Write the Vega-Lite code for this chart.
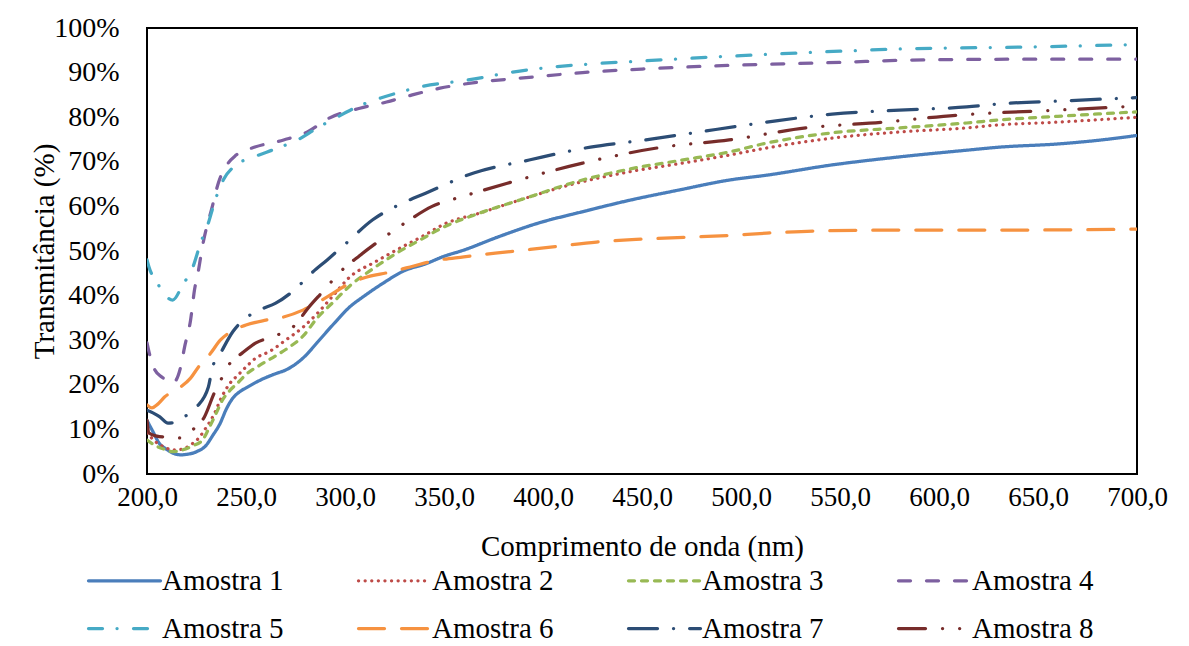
{
  "$schema": "https://vega.github.io/schema/vega-lite/v6.json",
  "width": 990,
  "height": 446,
  "autosize": {"type": "none"},
  "padding": {"left": 147, "top": 28, "right": 52, "bottom": 172},
  "background": "#ffffff",
  "config": {
    "view": {"stroke": "#000000", "strokeWidth": 2},
    "font": "Liberation Serif",
    "axis": {"labelFont": "Liberation Serif", "titleFont": "Liberation Serif", "labelColor": "#000", "titleColor": "#000", "titleFontWeight": "normal", "grid": false, "ticks": false, "domain": false}
  },
  "datasets": {
    "spec": [
      {"s":"Amostra 1","x":200,"y":12},{"s":"Amostra 1","x":203,"y":9.5},{"s":"Amostra 1","x":206,"y":7},{"s":"Amostra 1","x":210,"y":5.5},{"s":"Amostra 1","x":213,"y":4.7},{"s":"Amostra 1","x":217,"y":4.3},{"s":"Amostra 1","x":220,"y":4.4},{"s":"Amostra 1","x":225,"y":5},{"s":"Amostra 1","x":230,"y":6.5},{"s":"Amostra 1","x":233,"y":8.5},{"s":"Amostra 1","x":237,"y":11.4},{"s":"Amostra 1","x":240,"y":14.5},{"s":"Amostra 1","x":243,"y":16.8},{"s":"Amostra 1","x":247,"y":18.5},{"s":"Amostra 1","x":250,"y":19.3},{"s":"Amostra 1","x":257,"y":21},{"s":"Amostra 1","x":265,"y":22.5},{"s":"Amostra 1","x":270,"y":23.3},{"s":"Amostra 1","x":280,"y":26.5},{"s":"Amostra 1","x":286,"y":29.5},{"s":"Amostra 1","x":295,"y":34},{"s":"Amostra 1","x":302,"y":37.3},{"s":"Amostra 1","x":310,"y":40},{"s":"Amostra 1","x":320,"y":43},{"s":"Amostra 1","x":330,"y":45.6},{"s":"Amostra 1","x":340,"y":47},{"s":"Amostra 1","x":350,"y":48.8},{"s":"Amostra 1","x":360,"y":50.2},{"s":"Amostra 1","x":377,"y":53.1},{"s":"Amostra 1","x":398,"y":56.3},{"s":"Amostra 1","x":419,"y":58.7},{"s":"Amostra 1","x":444,"y":61.4},{"s":"Amostra 1","x":469,"y":63.7},{"s":"Amostra 1","x":494,"y":65.9},{"s":"Amostra 1","x":513,"y":67},{"s":"Amostra 1","x":546,"y":69.3},{"s":"Amostra 1","x":580,"y":71.1},{"s":"Amostra 1","x":614,"y":72.6},{"s":"Amostra 1","x":631,"y":73.3},{"s":"Amostra 1","x":660,"y":74},{"s":"Amostra 1","x":680,"y":74.8},{"s":"Amostra 1","x":700,"y":75.9},

      {"s":"Amostra 2","x":200,"y":9.2},{"s":"Amostra 2","x":205,"y":7},{"s":"Amostra 2","x":209,"y":6},{"s":"Amostra 2","x":213,"y":5.4},{"s":"Amostra 2","x":217,"y":5.5},{"s":"Amostra 2","x":222,"y":6.5},{"s":"Amostra 2","x":226,"y":8},{"s":"Amostra 2","x":230,"y":10.5},{"s":"Amostra 2","x":234,"y":13.5},{"s":"Amostra 2","x":237,"y":16.6},{"s":"Amostra 2","x":242,"y":20.4},{"s":"Amostra 2","x":246,"y":22.2},{"s":"Amostra 2","x":250,"y":24},{"s":"Amostra 2","x":255,"y":26},{"s":"Amostra 2","x":262,"y":27.5},{"s":"Amostra 2","x":270,"y":30},{"s":"Amostra 2","x":279,"y":33},{"s":"Amostra 2","x":286,"y":36},{"s":"Amostra 2","x":295,"y":40.5},{"s":"Amostra 2","x":302,"y":44},{"s":"Amostra 2","x":315,"y":47.5},{"s":"Amostra 2","x":328,"y":50.7},{"s":"Amostra 2","x":340,"y":53.5},{"s":"Amostra 2","x":350,"y":56},{"s":"Amostra 2","x":368,"y":58.5},{"s":"Amostra 2","x":393,"y":62.1},{"s":"Amostra 2","x":415,"y":65},{"s":"Amostra 2","x":444,"y":67.8},{"s":"Amostra 2","x":469,"y":69.6},{"s":"Amostra 2","x":494,"y":71.5},{"s":"Amostra 2","x":513,"y":73.1},{"s":"Amostra 2","x":546,"y":75.3},{"s":"Amostra 2","x":580,"y":76.7},{"s":"Amostra 2","x":614,"y":77.6},{"s":"Amostra 2","x":631,"y":78.3},{"s":"Amostra 2","x":660,"y":78.9},{"s":"Amostra 2","x":700,"y":80},

      {"s":"Amostra 3","x":200,"y":7.6},{"s":"Amostra 3","x":205,"y":6.2},{"s":"Amostra 3","x":209,"y":5.5},{"s":"Amostra 3","x":213,"y":5},{"s":"Amostra 3","x":218,"y":5.4},{"s":"Amostra 3","x":223,"y":6.3},{"s":"Amostra 3","x":228,"y":7.6},{"s":"Amostra 3","x":231,"y":10},{"s":"Amostra 3","x":235,"y":13.7},{"s":"Amostra 3","x":238,"y":16.5},{"s":"Amostra 3","x":242,"y":18.8},{"s":"Amostra 3","x":246,"y":20.5},{"s":"Amostra 3","x":250,"y":22.3},{"s":"Amostra 3","x":257,"y":24.4},{"s":"Amostra 3","x":265,"y":26.5},{"s":"Amostra 3","x":272,"y":28.5},{"s":"Amostra 3","x":279,"y":31},{"s":"Amostra 3","x":286,"y":35},{"s":"Amostra 3","x":294,"y":38.5},{"s":"Amostra 3","x":302,"y":42},{"s":"Amostra 3","x":314,"y":46},{"s":"Amostra 3","x":326,"y":49.5},{"s":"Amostra 3","x":338,"y":52.5},{"s":"Amostra 3","x":350,"y":55.4},{"s":"Amostra 3","x":368,"y":58.5},{"s":"Amostra 3","x":393,"y":62.1},{"s":"Amostra 3","x":415,"y":65.3},{"s":"Amostra 3","x":444,"y":68.4},{"s":"Amostra 3","x":469,"y":70.3},{"s":"Amostra 3","x":494,"y":72.2},{"s":"Amostra 3","x":513,"y":74.2},{"s":"Amostra 3","x":546,"y":76.5},{"s":"Amostra 3","x":580,"y":77.6},{"s":"Amostra 3","x":614,"y":78.7},{"s":"Amostra 3","x":631,"y":79.4},{"s":"Amostra 3","x":660,"y":80.2},{"s":"Amostra 3","x":700,"y":81.2},

      {"s":"Amostra 4","x":200,"y":29.4},{"s":"Amostra 4","x":201,"y":27.4},{"s":"Amostra 4","x":204,"y":23.3},{"s":"Amostra 4","x":207.6,"y":21.7},{"s":"Amostra 4","x":213,"y":20.4},{"s":"Amostra 4","x":217,"y":24},{"s":"Amostra 4","x":219,"y":28.5},{"s":"Amostra 4","x":222,"y":34.5},{"s":"Amostra 4","x":224,"y":41.3},{"s":"Amostra 4","x":226,"y":45.7},{"s":"Amostra 4","x":228,"y":51},{"s":"Amostra 4","x":233,"y":60},{"s":"Amostra 4","x":236,"y":65.2},{"s":"Amostra 4","x":241,"y":69.7},{"s":"Amostra 4","x":245,"y":71.5},{"s":"Amostra 4","x":254.5,"y":73.3},{"s":"Amostra 4","x":269,"y":74.9},{"s":"Amostra 4","x":281,"y":76.7},{"s":"Amostra 4","x":292,"y":79.8},{"s":"Amostra 4","x":307.5,"y":82},{"s":"Amostra 4","x":321,"y":83.4},{"s":"Amostra 4","x":334,"y":85},{"s":"Amostra 4","x":348,"y":86.5},{"s":"Amostra 4","x":370,"y":88},{"s":"Amostra 4","x":390,"y":88.8},{"s":"Amostra 4","x":420,"y":90},{"s":"Amostra 4","x":450,"y":90.8},{"s":"Amostra 4","x":500,"y":91.7},{"s":"Amostra 4","x":550,"y":92.3},{"s":"Amostra 4","x":585,"y":92.8},{"s":"Amostra 4","x":640,"y":93},{"s":"Amostra 4","x":700,"y":93},

      {"s":"Amostra 5","x":200,"y":48},{"s":"Amostra 5","x":201,"y":46.4},{"s":"Amostra 5","x":205,"y":43},{"s":"Amostra 5","x":210,"y":39.7},{"s":"Amostra 5","x":213,"y":39},{"s":"Amostra 5","x":218,"y":42.4},{"s":"Amostra 5","x":223,"y":46.2},{"s":"Amostra 5","x":227,"y":51.7},{"s":"Amostra 5","x":231,"y":56.3},{"s":"Amostra 5","x":234,"y":60.8},{"s":"Amostra 5","x":238.5,"y":65.9},{"s":"Amostra 5","x":245,"y":69.3},{"s":"Amostra 5","x":253.5,"y":71},{"s":"Amostra 5","x":265.5,"y":73},{"s":"Amostra 5","x":276,"y":74.9},{"s":"Amostra 5","x":286,"y":77.6},{"s":"Amostra 5","x":296,"y":80},{"s":"Amostra 5","x":306,"y":82.3},{"s":"Amostra 5","x":318,"y":84.3},{"s":"Amostra 5","x":326,"y":85.4},{"s":"Amostra 5","x":338,"y":86.8},{"s":"Amostra 5","x":360,"y":88.2},{"s":"Amostra 5","x":392,"y":90.6},{"s":"Amostra 5","x":420,"y":91.8},{"s":"Amostra 5","x":450,"y":92.6},{"s":"Amostra 5","x":500,"y":93.8},{"s":"Amostra 5","x":550,"y":94.8},{"s":"Amostra 5","x":580,"y":95.3},{"s":"Amostra 5","x":640,"y":95.7},{"s":"Amostra 5","x":700,"y":96.3},

      {"s":"Amostra 6","x":200,"y":15.5},{"s":"Amostra 6","x":202.5,"y":14.8},{"s":"Amostra 6","x":205,"y":15.5},{"s":"Amostra 6","x":209,"y":17.3},{"s":"Amostra 6","x":217,"y":19.5},{"s":"Amostra 6","x":222,"y":21.5},{"s":"Amostra 6","x":226,"y":24},{"s":"Amostra 6","x":232,"y":27},{"s":"Amostra 6","x":237,"y":30},{"s":"Amostra 6","x":242,"y":31.8},{"s":"Amostra 6","x":250,"y":33.4},{"s":"Amostra 6","x":260,"y":34.5},{"s":"Amostra 6","x":269,"y":35.2},{"s":"Amostra 6","x":279,"y":36.8},{"s":"Amostra 6","x":291,"y":39.7},{"s":"Amostra 6","x":301,"y":42.4},{"s":"Amostra 6","x":309,"y":43.9},{"s":"Amostra 6","x":323,"y":45.3},{"s":"Amostra 6","x":331,"y":46.2},{"s":"Amostra 6","x":344,"y":47.7},{"s":"Amostra 6","x":360,"y":48.7},{"s":"Amostra 6","x":382,"y":49.8},{"s":"Amostra 6","x":405,"y":50.9},{"s":"Amostra 6","x":427,"y":52},{"s":"Amostra 6","x":452,"y":52.7},{"s":"Amostra 6","x":494,"y":53.5},{"s":"Amostra 6","x":513,"y":54},{"s":"Amostra 6","x":538,"y":54.5},{"s":"Amostra 6","x":580,"y":54.7},{"s":"Amostra 6","x":640,"y":54.7},{"s":"Amostra 6","x":700,"y":54.9},

      {"s":"Amostra 7","x":200,"y":14.3},{"s":"Amostra 7","x":203,"y":13.7},{"s":"Amostra 7","x":206.5,"y":12.8},{"s":"Amostra 7","x":210.6,"y":11.4},{"s":"Amostra 7","x":214,"y":11.5},{"s":"Amostra 7","x":218,"y":12.6},{"s":"Amostra 7","x":225,"y":15},{"s":"Amostra 7","x":231,"y":19.5},{"s":"Amostra 7","x":233,"y":23.8},{"s":"Amostra 7","x":237,"y":27},{"s":"Amostra 7","x":243.5,"y":32},{"s":"Amostra 7","x":250,"y":35},{"s":"Amostra 7","x":257,"y":36.8},{"s":"Amostra 7","x":265,"y":38.3},{"s":"Amostra 7","x":275,"y":41.5},{"s":"Amostra 7","x":283,"y":45},{"s":"Amostra 7","x":291,"y":48},{"s":"Amostra 7","x":300,"y":51.5},{"s":"Amostra 7","x":314,"y":57},{"s":"Amostra 7","x":327,"y":60.3},{"s":"Amostra 7","x":341,"y":63},{"s":"Amostra 7","x":365,"y":67.5},{"s":"Amostra 7","x":393,"y":70.4},{"s":"Amostra 7","x":424,"y":73.3},{"s":"Amostra 7","x":452,"y":74.9},{"s":"Amostra 7","x":479,"y":76.7},{"s":"Amostra 7","x":513,"y":78.9},{"s":"Amostra 7","x":546,"y":80.7},{"s":"Amostra 7","x":580,"y":81.6},{"s":"Amostra 7","x":614,"y":82.3},{"s":"Amostra 7","x":631,"y":83},{"s":"Amostra 7","x":665,"y":83.7},{"s":"Amostra 7","x":700,"y":84.4},

      {"s":"Amostra 8","x":200,"y":12},{"s":"Amostra 8","x":201,"y":9.2},{"s":"Amostra 8","x":205,"y":8.5},{"s":"Amostra 8","x":208,"y":8.3},{"s":"Amostra 8","x":217,"y":8.1},{"s":"Amostra 8","x":223,"y":9.9},{"s":"Amostra 8","x":229,"y":12.8},{"s":"Amostra 8","x":234,"y":18.2},{"s":"Amostra 8","x":238,"y":21.7},{"s":"Amostra 8","x":242,"y":24.9},{"s":"Amostra 8","x":248,"y":27.1},{"s":"Amostra 8","x":255,"y":29.4},{"s":"Amostra 8","x":265,"y":31},{"s":"Amostra 8","x":275,"y":33.5},{"s":"Amostra 8","x":281,"y":37},{"s":"Amostra 8","x":289,"y":41},{"s":"Amostra 8","x":298,"y":45.5},{"s":"Amostra 8","x":307.5,"y":49},{"s":"Amostra 8","x":318,"y":52.5},{"s":"Amostra 8","x":331,"y":56.5},{"s":"Amostra 8","x":344,"y":60},{"s":"Amostra 8","x":360,"y":62.3},{"s":"Amostra 8","x":382,"y":65.2},{"s":"Amostra 8","x":420,"y":69.7},{"s":"Amostra 8","x":457.6,"y":73.1},{"s":"Amostra 8","x":494,"y":74.9},{"s":"Amostra 8","x":533,"y":77.6},{"s":"Amostra 8","x":572,"y":78.9},{"s":"Amostra 8","x":611,"y":80.5},{"s":"Amostra 8","x":626,"y":80.9},{"s":"Amostra 8","x":660,"y":81.6},{"s":"Amostra 8","x":700,"y":82.5}
    ]
  },
  "layer": [
    {
      "data": {"name": "spec"},
      "mark": {"type": "line", "strokeWidth": 3.25, "strokeCap": "round", "interpolate": "monotone", "clip": true},
      "encoding": {
        "x": {"field": "x", "type": "quantitative", "scale": {"domain": [200, 700], "nice": false, "zero": false},
          "axis": {"values": [200,250,300,350,400,450,500,550,600,650,700], "labelExpr": "replace(format(datum.value, '.1f'), '.', ',')", "labelFontSize": 27, "labelPadding": 10, "labelFlush": false, "labelOverlap": false, "labelBound": false, "title": "Comprimento de onda (nm)", "titleFontSize": 29, "titlePadding": 22}},
        "y": {"field": "y", "type": "quantitative", "scale": {"domain": [0, 100], "nice": false},
          "axis": {"values": [0,10,20,30,40,50,60,70,80,90,100], "labelExpr": "datum.value + '%'", "labelFontSize": 28, "labelPadding": 28, "labelFlush": false, "labelOverlap": false, "labelBound": false, "title": "Transmitância (%)", "titleFontSize": 29, "titlePadding": -6}},
        "color": {"field": "s", "type": "nominal", "sort": null,
          "scale": {"domain": ["Amostra 1","Amostra 2","Amostra 3","Amostra 4","Amostra 5","Amostra 6","Amostra 7","Amostra 8"],
                    "range": ["#4A7EBB","#BE4B48","#98B954","#7D60A0","#46AAC5","#F69240","#2C4D75","#772C2A"]},
          "legend": {"title": null, "orient": "none", "legendX": -37, "legendY": 538, "direction": "horizontal", "columns": 4, "columnPadding": 68, "rowPadding": 18, "symbolType": "M-3,0H3", "symbolSize": 576, "symbolStrokeWidth": 3.25, "labelFont": "Liberation Serif", "labelFontSize": 29, "labelColor": "#000", "labelOffset": 23, "padding": 0, "encode": {"symbols": {"update": {"strokeCap": {"value": "round"}}}}}},
        "strokeDash": {"field": "s", "type": "nominal", "sort": null,
          "scale": {"domain": ["Amostra 1","Amostra 2","Amostra 3","Amostra 4","Amostra 5","Amostra 6","Amostra 7","Amostra 8"],
                    "range": [[1,0],[0.1,6.5],[6,7],[12,16],[14,14.5,0.1,16.4],[26,17],[29,16,0.1,16],[27,17,0.1,17,0.1,14]]},
          "legend": {"title": null, "orient": "none", "legendX": -37, "legendY": 538, "direction": "horizontal", "columns": 4, "columnPadding": 68, "rowPadding": 18, "symbolType": "M-3,0H3", "symbolSize": 576, "symbolStrokeWidth": 3.25, "labelFont": "Liberation Serif", "labelFontSize": 29, "labelColor": "#000", "labelOffset": 23, "padding": 0, "encode": {"symbols": {"update": {"strokeCap": {"value": "round"}}}}}}
      }
    },
    {
      "mark": {"type": "rule", "color": "#000", "strokeWidth": 5},
      "encoding": {"y": {"datum": 100, "type": "quantitative"}}
    },
    {
      "mark": {"type": "rule", "color": "#000", "strokeWidth": 5},
      "encoding": {"x": {"datum": 700, "type": "quantitative"}}
    }
  ]
}
